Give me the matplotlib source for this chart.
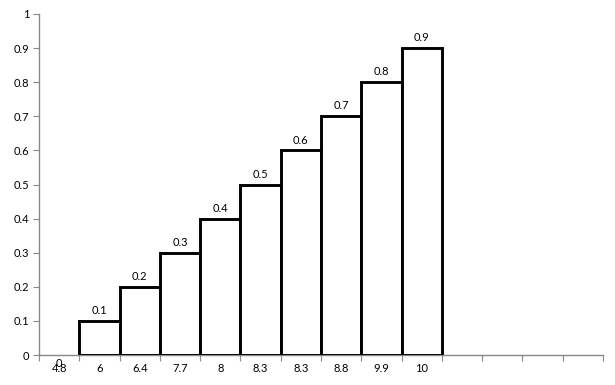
import matplotlib
matplotlib.use("Agg")
from matplotlib import pyplot as plt

categories = ["4.8", "6", "6.4", "7.7", "8", "8.3", "8.3", "8.8", "9.9", "10", "", "", "", ""]
values = [0, 0.1, 0.2, 0.3, 0.4, 0.5, 0.6, 0.7, 0.8, 0.9]
yticks = [0, 0.1, 0.2, 0.3, 0.4, 0.5, 0.6, 0.7, 0.8, 0.9, 1]
yticklabels = ["0", "0.1", "0.2", "0.3", "0.4", "0.5", "0.6", "0.7", "0.8", "0.9", "1"]

plt.rcParams['font.family'] = ['Lato', 'DejaVu Sans']
fs = 8

fig = plt.figure(figsize=(6.15, 3.85), dpi=100)
ax = fig.add_axes([39/615, 30/385, 564/615, 341/385])

xpos = [i + 0.5 for i in range(len(values))]
edges = ["black" if v > 0 else "none" for v in values]
ax.bar(xpos, values, width=1.0, facecolor="white", edgecolor=edges, lw=2.1, zorder=3)

# value labels above the bars (the zero one ends up under the axis)
for x, v in zip(xpos, values):
    if v > 0:
        ax.annotate(str(v), (x, v), xytext=(0, 3.5), textcoords="offset points",
                    ha="center", va="bottom", fontsize=fs)
    else:
        ax.annotate(str(v), (x, v), xytext=(0, -2.5), textcoords="offset points",
                    ha="center", va="top", fontsize=fs)

ax.set_xlim(0, len(categories))
ax.set_ylim(0, 1)

ax.set_xticks(range(len(categories) + 1))
ax.set_xticklabels([])
ax.set_xticks([i + 0.5 for i in range(len(categories))], minor=True)
ax.set_xticklabels(categories, minor=True, fontsize=fs)
ax.tick_params(axis="x", which="minor", length=0, pad=6)
ax.tick_params(axis="x", which="major", length=4, color="#888888")

ax.set_yticks(yticks)
ax.set_yticklabels(yticklabels, fontsize=fs)
ax.tick_params(axis="y", length=4, color="#888888", pad=3)

for s in ["top", "right"]:
    ax.spines[s].set_visible(False)
for s in ["left", "bottom"]:
    ax.spines[s].set_color("#888888")
    ax.spines[s].set_linewidth(1.0)

fig.savefig("out.png", dpi=100)
